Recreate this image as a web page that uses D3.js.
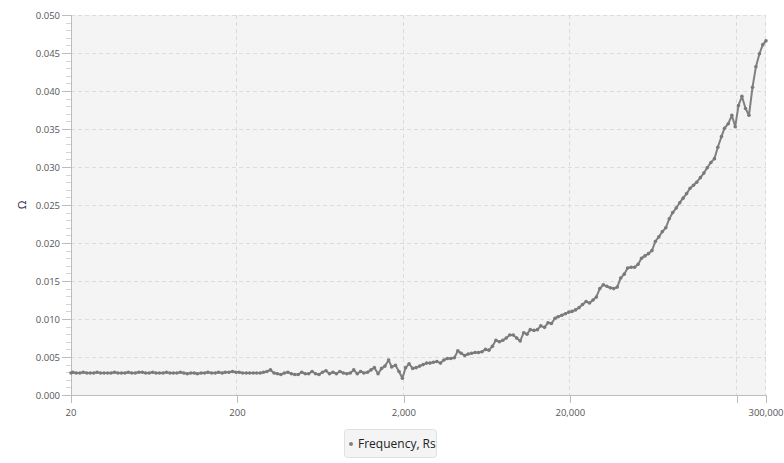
<!DOCTYPE html>
<html>
<head>
<meta charset="utf-8">
<script src="https://cdn.jsdelivr.net/npm/d3@7"></script>
<style>
  body { margin: 0; background: #fff; }
  text { font-family: "Open Sans", "DejaVu Sans", sans-serif; }
</style>
</head>
<body>
<div id="chart"></div>
<script>
// sweep frequencies (Hz), 48 points per decade
const freqs = [
  20, 20.5, 21.5, 22.6, 23.7, 24.9, 26.1, 27.4, 28.7, 30.1, 31.6, 33.2, 34.8, 36.5, 38.3, 40.2, 42.2, 44.2, 46.4, 48.7,
  51.1, 53.6, 56.2, 59.0, 61.9, 64.9, 68.1, 71.5, 75.0, 78.7, 82.5, 86.6, 90.9, 95.3,
  100, 105, 110, 115, 121, 127, 133, 140, 147, 154, 162, 169, 178, 187, 196, 205, 215, 226, 237, 249,
  261, 274, 287, 301, 316, 332, 348, 365, 383, 402, 422, 442, 464, 487, 511, 536, 562, 590, 619, 649,
  681, 715, 750, 787, 825, 866, 909, 953,
  1000, 1050, 1100, 1150, 1210, 1270, 1330, 1400, 1470, 1540, 1620, 1690, 1780, 1870, 1960, 2050, 2150, 2260, 2370, 2490,
  2610, 2740, 2870, 3010, 3160, 3320, 3480, 3650, 3830, 4020, 4220, 4420, 4640, 4870, 5110, 5360, 5620, 5900, 6190, 6490,
  6810, 7150, 7500, 7870, 8250, 8660, 9090, 9530,
  10000, 10500, 11000, 11500, 12100, 12700, 13300, 14000, 14700, 15400, 16200, 16900, 17800, 18700, 19600, 20500, 21500, 22600, 23700, 24900,
  26100, 27400, 28700, 30100, 31600, 33200, 34800, 36500, 38300, 40200, 42200, 44200, 46400, 48700, 51100, 53600, 56200, 59000, 61900, 64900,
  68100, 71500, 75000, 78700, 82500, 86600, 90900, 95300,
  100000, 105000, 110000, 115000, 121000, 127000, 133000, 140000, 147000, 154000, 162000, 169000, 178000, 187000, 196000, 205000, 215000, 226000, 237000, 249000,
  261000, 274000, 287000, 300000
];

// Rs (ohm)
const rs = [
  0.0029, 0.0030, 0.0029, 0.0029, 0.0030, 0.0029, 0.0029, 0.0029, 0.0030, 0.0029, 0.0029, 0.0029, 0.0029, 0.0030, 0.0029, 0.0029, 0.0029, 0.0030, 0.0029, 0.0029,
  0.0030, 0.0030, 0.0029, 0.0029, 0.0030, 0.0029, 0.0029, 0.0029, 0.0030, 0.0029, 0.0029, 0.0029, 0.0030, 0.0029,
  0.0028, 0.0029, 0.0029, 0.0028, 0.0029, 0.0029, 0.0030, 0.0029, 0.0029, 0.0030, 0.0029, 0.0030, 0.0030, 0.0031, 0.0030, 0.0030, 0.0029, 0.0029, 0.0029, 0.0029,
  0.0029, 0.0029, 0.0030, 0.0031, 0.0033, 0.0029, 0.0028, 0.0027, 0.0029, 0.0030, 0.0028, 0.0027, 0.0027, 0.0030, 0.0028, 0.0028, 0.0031, 0.0028, 0.0027, 0.0030,
  0.0032, 0.0028, 0.0030, 0.0028, 0.0031, 0.0029, 0.0028, 0.0029,
  0.0033, 0.0028, 0.0031, 0.0029, 0.0030, 0.0033, 0.0036, 0.0028, 0.0035, 0.0038, 0.0046, 0.0037, 0.0039, 0.0031, 0.0022, 0.0036, 0.0041, 0.0035, 0.0036, 0.0038,
  0.0040, 0.0042, 0.0042, 0.0043, 0.0044, 0.0042, 0.0046, 0.0048, 0.0048, 0.0049, 0.0058, 0.0055, 0.0052, 0.0054, 0.0055, 0.0056, 0.0056, 0.0057, 0.0060, 0.0059,
  0.0064, 0.0072, 0.0070, 0.0072, 0.0075, 0.0079, 0.0079, 0.0075,
  0.0071, 0.0082, 0.0080, 0.0086, 0.0085, 0.0086, 0.0091, 0.0089, 0.0095, 0.0094, 0.0101, 0.0103, 0.0105, 0.0107, 0.0109, 0.0110, 0.0112, 0.0115, 0.0119, 0.0123,
  0.0121, 0.0125, 0.0129, 0.0140, 0.0145, 0.0143, 0.0141, 0.0140, 0.0142, 0.0154, 0.0159, 0.0167, 0.0168, 0.0168, 0.0172, 0.0180, 0.0183, 0.0186, 0.0190, 0.0202,
  0.0208, 0.0215, 0.0220, 0.0232, 0.0240, 0.0246, 0.0253, 0.0259,
  0.0265, 0.0272, 0.0276, 0.0280, 0.0286, 0.0292, 0.0299, 0.0306, 0.0311, 0.0326, 0.0340, 0.0351, 0.0357, 0.0368, 0.0353, 0.0381, 0.0393, 0.0377, 0.0368, 0.0405,
  0.0432, 0.0449, 0.0461, 0.0466
];

const xTicks = [20, 200, 2000, 20000, 200000, 300000];
const xTickLabels = ["20", "200", "2,000", "20,000", "", "300,000"];
const yTicks = [0, 0.005, 0.01, 0.015, 0.02, 0.025, 0.03, 0.035, 0.04, 0.045, 0.05];
const yMinorTicks = d3.range(0, 0.0501, 0.001);

const W = 784, H = 463;
const margin = { top: 15, right: 18, bottom: 68, left: 71 };
const width = W - margin.left - margin.right,
      height = H - margin.top - margin.bottom;

const svg = d3.select("#chart").append("svg")
  .attr("width", W).attr("height", H);

const g = svg.append("g").attr("transform", `translate(${margin.left},${margin.top})`);

const x = d3.scaleLog().domain([20, 300000]).range([0, width]);
const y = d3.scaleLinear().domain([0, 0.05]).range([height, 0]);

// plot background
g.append("rect").attr("width", width).attr("height", height).attr("fill", "#f4f4f4");

// grid
g.append("g").selectAll("line").data(yTicks.slice(1)).enter().append("line")
  .attr("x1", 0).attr("x2", width)
  .attr("y1", d => y(d) + 0.5).attr("y2", d => y(d) + 0.5)
  .attr("stroke", "#dcdcdc").attr("stroke-dasharray", "4,3");
g.append("g").selectAll("line").data(xTicks.slice(1)).enter().append("line")
  .attr("y1", 0).attr("y2", height)
  .attr("x1", d => Math.round(x(d)) - 0.5).attr("x2", d => Math.round(x(d)) - 0.5)
  .attr("stroke", "#dcdcdc").attr("stroke-dasharray", "4,3");

// y axis
const yAxis = g.append("g");
yAxis.append("line").attr("x1", 0.5).attr("x2", 0.5).attr("y1", 0).attr("y2", height)
  .attr("stroke", "#bdbdbd");
yAxis.selectAll(".minor").data(yMinorTicks).enter().append("line")
  .attr("x1", -5).attr("x2", 0)
  .attr("y1", d => Math.round(y(d)) + 0.5).attr("y2", d => Math.round(y(d)) + 0.5)
  .attr("stroke", "#d4d4d4");
yAxis.selectAll(".major").data(yTicks).enter().append("line")
  .attr("x1", -9).attr("x2", 0)
  .attr("y1", d => Math.round(y(d)) + 0.5).attr("y2", d => Math.round(y(d)) + 0.5)
  .attr("stroke", "#bdbdbd");
yAxis.selectAll("text").data(yTicks).enter().append("text")
  .attr("x", -11).attr("y", d => y(d) + 3.5)
  .attr("text-anchor", "end")
  .attr("font-size", "9.5px").attr("fill", "#555")
  .text(d => d3.format(".3f")(d));

// x axis
const xAxis = g.append("g").attr("transform", `translate(0,${height})`);
xAxis.append("line").attr("x1", 0).attr("x2", width).attr("y1", 0.5).attr("y2", 0.5)
  .attr("stroke", "#bdbdbd");
xAxis.selectAll("line.tick").data(xTicks).enter().append("line")
  .attr("class", "tick")
  .attr("x1", d => Math.round(x(d)) + 0.5).attr("x2", d => Math.round(x(d)) + 0.5)
  .attr("y1", 0).attr("y2", 8)
  .attr("stroke", "#bdbdbd");
xAxis.selectAll("text").data(xTicks).enter().append("text")
  .attr("x", d => x(d)).attr("y", 21)
  .attr("text-anchor", "middle")
  .attr("font-size", "9.5px").attr("fill", "#555")
  .text((d, i) => xTickLabels[i]);

// y label
svg.append("text")
  .attr("transform", `translate(26,${margin.top + height / 2}) rotate(-90)`)
  .attr("text-anchor", "middle")
  .attr("font-size", "11px").attr("fill", "#1d1d3a")
  .text("Ω");

// series
const pts = freqs.map((f, i) => [f, rs[i]]);
const line = d3.line().x(d => x(d[0])).y(d => y(d[1]));

g.append("path").datum(pts)
  .attr("d", line)
  .attr("fill", "none")
  .attr("stroke", "#808080")
  .attr("stroke-width", 2)
  .attr("stroke-linejoin", "round");

g.append("g").selectAll("circle").data(pts).enter().append("circle")
  .attr("cx", d => x(d[0])).attr("cy", d => y(d[1]))
  .attr("r", 1.8)
  .attr("fill", "#7a7a7a");

// legend
const lg = svg.append("g").attr("transform", "translate(344,429)");
lg.append("rect").attr("x", 0.5).attr("y", 0.5).attr("width", 92).attr("height", 28)
  .attr("rx", 3).attr("fill", "#f4f4f4").attr("stroke", "#e0e0e0");
lg.append("circle").attr("cx", 7).attr("cy", 15).attr("r", 2).attr("fill", "#808080");
lg.append("text").attr("x", 14).attr("y", 19)
  .attr("font-size", "12px").attr("fill", "#222")
  .text("Frequency, Rs");
</script>
</body>
</html>
